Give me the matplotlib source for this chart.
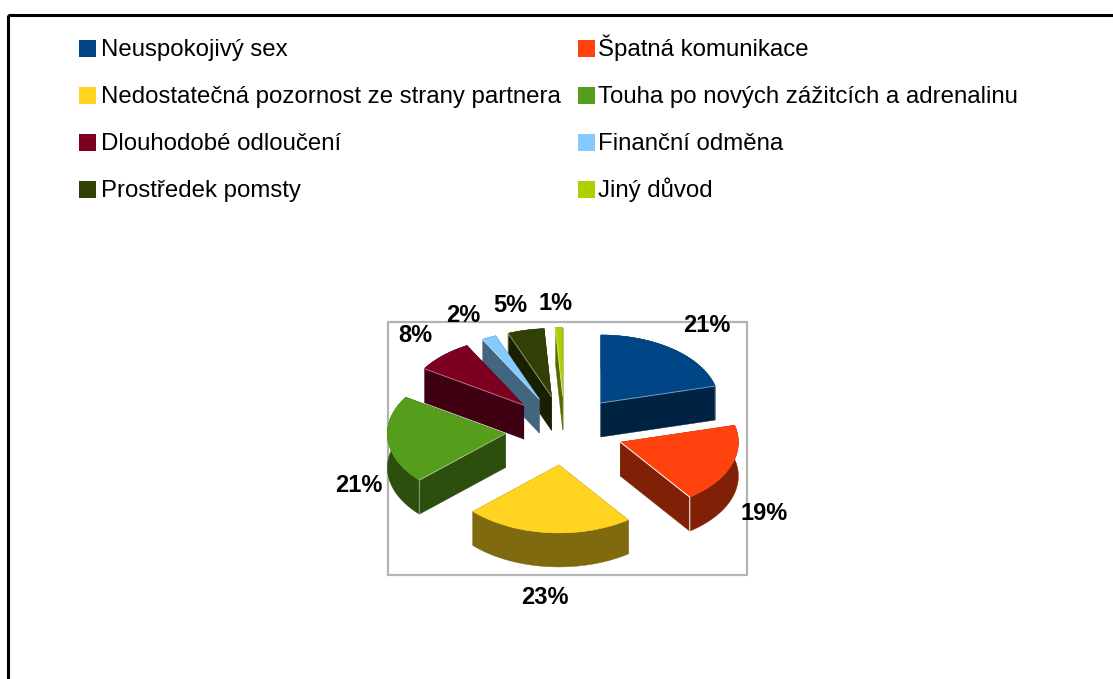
import numpy as np
import matplotlib
matplotlib.use('Agg')
import matplotlib.pyplot as plt
from matplotlib.patches import Polygon, Rectangle

# data
labels = ['Neuspokojivý sex', 'Špatná komunikace',
          'Nedostatečná pozornost ze strany partnera', 'Touha po nových zážitcích a adrenalinu',
          'Dlouhodobé odloučení', 'Finanční odměna',
          'Prostředek pomsty', 'Jiný důvod']
values = [21, 19, 23, 21, 8, 2, 5, 1]
colors = ['#004586', '#ff420e', '#ffd320', '#579d1c', '#7e0021', '#83caff', '#314004', '#aecf00']

# layout in pixels of the 1113x679 picture
cx, cy = 564.5, 430.4     # pie centre
rx, ry = 118, 68          # top ellipse radii
ex, ey = 59.4, 34.7       # explosion offset
depth = 34
label_pos = [(707, 325), (764, 514), (545, 598), (359, 486),
             (415, 336), (463, 315), (510, 305), (556, 303)]

plt.rcParams['font.family'] = ['Liberation Sans', 'DejaVu Sans']

fig = plt.figure(figsize=(11.13, 6.79), dpi=100)
ax = fig.add_axes([0, 0, 1, 1])
ax.set_xlim(0, 1113)
ax.set_ylim(679, 0)
ax.axis('off')

# outer frame, runs off the right and bottom of the picture
ax.add_patch(Rectangle((7.5, 14.5), 1200, 800, fill=False, ec='black', lw=2.2, zorder=1))
# plot area frame
ax.add_patch(Rectangle((388, 322), 359, 253, fill=False, ec='#b3b3b3', lw=1.6, zorder=2))


def darker(c):
    return tuple(v * 0.5 for v in matplotlib.colors.to_rgb(c))


def draw_slice(start, end, col, z):
    # angles in degrees, clockwise from the top
    mid = np.radians((start + end) / 2)
    ax_, ay_ = cx + ex * np.sin(mid), cy - ey * np.cos(mid)
    t = np.radians(np.linspace(start, end, 60))
    xs = ax_ + rx * np.sin(t)
    ys = ay_ - ry * np.cos(t)
    side = darker(col)
    # the two cut faces
    for i in (0, -1):
        pts = [(ax_, ay_), (xs[i], ys[i]), (xs[i], ys[i] + depth), (ax_, ay_ + depth)]
        ax.add_patch(Polygon(pts, fc=side, ec=side, lw=0.3, zorder=z))
    # outer rim
    rim = list(zip(xs, ys)) + list(zip(xs[::-1], ys[::-1] + depth))
    ax.add_patch(Polygon(rim, fc=side, ec=side, lw=0.3, zorder=z))
    # top
    top = [(ax_, ay_)] + list(zip(xs, ys))
    ax.add_patch(Polygon(top, fc=col, ec=col, lw=0.3, zorder=z + 0.5))
    # thin light line along the visible cut face
    if np.cos(mid) > -0.9:
        i = -1 if np.sin(mid) > 0 else 0
        a = 1.0 if col == colors[1] else 0.45
        ax.plot([ax_, xs[i], xs[i]], [ay_, ys[i], ys[i] + depth], color='white',
                lw=0.7, alpha=a, zorder=z + 0.6, solid_joinstyle='miter')


angles = np.cumsum([0] + values) * 3.6
# back slices first
mids = (angles[:-1] + angles[1:]) / 2
order = np.argsort(-np.cos(np.radians(mids)))
for n, i in enumerate(order):
    draw_slice(angles[i], angles[i + 1], colors[i], 3 + n)

for v, (x, y) in zip(values, label_pos):
    ax.text(x, y, f'{v}%', ha='center', va='center', fontsize=17, fontweight='bold', zorder=20)

# legend, two columns read by row, placed by hand so the rows stay even
for i, (lab, col) in enumerate(zip(labels, colors)):
    x0 = 79 if i % 2 == 0 else 578
    y0 = 48 + 47 * (i // 2)
    ax.add_patch(Rectangle((x0, y0 - 8.5), 17, 17, fc=col, ec='none', zorder=3))
    ax.text(x0 + (22 if i % 2 == 0 else 20), y0 + 8, lab, ha='left', va='baseline',
            fontsize=17.3, zorder=3)

fig.savefig('out.png', dpi=100)
